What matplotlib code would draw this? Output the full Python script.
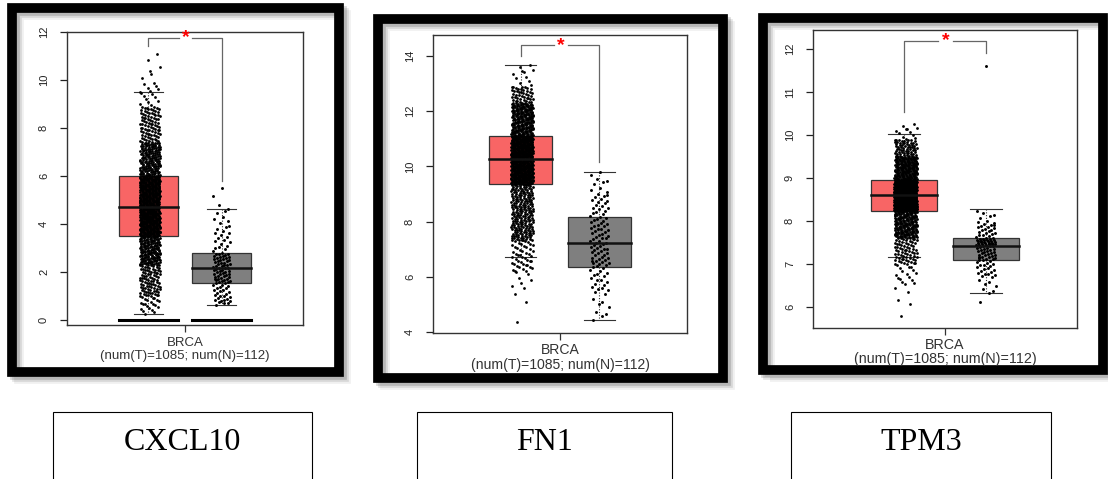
import numpy as np
import matplotlib
matplotlib.use("Agg")
import matplotlib.pyplot as plt
from matplotlib.patches import Rectangle

plt.rcParams['font.family'] = ['Liberation Sans', 'DejaVu Sans']

W, H = 1108, 479

genes = ["CXCL10", "FN1", "TPM3"]
n_tumor, n_normal = 1085, 112

# box stats: (whisker low, Q1, median, Q3, whisker high)
tumor_box = [(0.25, 3.5, 4.72, 6.0, 9.5),
             (6.7, 9.35, 10.25, 11.1, 13.68),
             (7.15, 8.23, 8.6, 8.96, 10.03)]
normal_box = [(0.65, 1.55, 2.18, 2.8, 4.65),
              (4.42, 6.35, 7.22, 8.15, 9.78),
              (6.32, 7.08, 7.42, 7.6, 8.27)]

# rough quantile knots of the dot clouds (probability, value)
tumor_probs = [[0, .005, .02, .1, .25, .5, .75, .9, .98, .995, 1],
               [0, .003, .01, .05, .25, .5, .75, .95, .99, 1],
               [0, .005, .02, .08, .25, .5, .75, .93, .99, 1]]
tumor_vals = [[0.25, 0.5, 1.0, 2.3, 3.5, 4.72, 6.0, 7.4, 8.9, 9.9, 11.1],
              [4.35, 5.5, 6.2, 7.3, 9.35, 10.25, 11.1, 12.3, 12.9, 13.68],
              [5.78, 6.5, 7.0, 7.6, 8.23, 8.6, 8.96, 9.5, 9.9, 10.25]]
normal_probs = [[0, .02, .08, .25, .5, .75, .9, .97, 1],
                [0, .03, .08, .25, .5, .75, .92, .97, 1],
                [0, .02, .08, .25, .5, .75, .93, .995, 1]]
normal_vals = [[0.65, 0.7, 0.9, 1.55, 2.18, 2.8, 3.8, 4.65, 5.5],
               [4.42, 4.7, 5.4, 6.35, 7.22, 8.15, 9.0, 9.5, 9.78],
               [6.12, 6.35, 6.7, 7.08, 7.42, 7.6, 7.95, 8.27, 11.6]]

# significance bracket: (left bottom, top, right bottom)
brackets = [(11.4, 11.75, 5.8), (14.0, 14.38, 10.16), (10.53, 12.19, 11.9)]

ylims = [(-0.2, 12.0), (3.96, 14.76), (5.51, 12.44)]
yticks = [np.arange(0, 13, 2), np.arange(4, 15, 2), np.arange(6, 13, 1)]
zero_bars = [True, False, False]

# layout in pixels
axes_px = [(67, 32, 303, 325), (433, 35, 687, 333), (813, 30, 1077, 328)]
frame_px = [(12, 8, 339, 372), (377.5, 18.5, 723, 377.5), (762.5, 17.5, 1102.5, 370)]
label_y = [349.5, 357.5, 352]
label_fs = [9.5, 10.1, 10.3]
name_box_px = [(53, 412, 312), (417, 412, 672), (791, 412, 1051)]

RED = "#f86565"
GRAY = "#7f7f7f"


def cloud(probs, vals, n, center, half):
    i = np.arange(n)
    p = (i * 0.6180339887 + 0.31) % 1.0
    p[np.argmin(p)] = 0.0
    p[np.argmax(p)] = 1.0
    y = np.interp(p, probs, vals)
    x = center + ((i * 0.7548776662 + 0.13) % 1.0 - 0.5) * 2 * half
    return x, y


def draw_box(ax, pos, stats, color):
    lo, q1, med, q3, hi = stats
    w = 0.8
    ax.add_patch(Rectangle((pos - w / 2, q1), w, q3 - q1, facecolor=color,
                           edgecolor="#333333", lw=0.9, zorder=2))
    ax.plot([pos, pos], [hi, q3], color="#333333", lw=0.8, ls=(0, (1, 1.5)), zorder=2)
    ax.plot([pos, pos], [q1, lo], color="#333333", lw=0.8, ls=(0, (1, 1.5)), zorder=2)
    for v in (lo, hi):
        ax.plot([pos - w / 4, pos + w / 4], [v, v], color="#333333", lw=0.8, zorder=2)
    return w


fig = plt.figure(figsize=(W / 100, H / 100), dpi=100)

for k in range(3):
    l, t, r, b = axes_px[k]
    ax = fig.add_axes([l / W, 1 - b / H, (r - l) / W, (b - t) / H])
    ax.set_xlim(-0.11, 3.11)
    ax.set_ylim(*ylims[k])

    w = draw_box(ax, 1, tumor_box[k], RED)
    draw_box(ax, 2, normal_box[k], GRAY)

    xt, yt = cloud(tumor_probs[k], tumor_vals[k], n_tumor, 1.02, 0.14)
    xn, yn = cloud(normal_probs[k], normal_vals[k], n_normal, 2.0, 0.12)
    ax.scatter(xt, yt, s=4, color="black", lw=0, zorder=3)
    ax.scatter(xn, yn, s=4.5, color="black", lw=0, zorder=3)

    for pos, stats in ((1, tumor_box[k]), (2, normal_box[k])):
        ax.plot([pos - w / 2, pos + w / 2], [stats[2]] * 2, color="#111111", lw=1.8, zorder=4)
        if zero_bars[k]:
            ax.plot([pos - w / 2, pos + w / 2], [0, 0], color="black", lw=2.2, zorder=4)

    lb, top, rb = brackets[k]
    bc = "#666666"
    ax.plot([1, 1, 1.42], [lb, top, top], color=bc, lw=0.9, zorder=1)
    ax.plot([1.6, 2, 2], [top, top, rb], color=bc, lw=0.9, zorder=1)
    ax.text(1.51, top, "*", color="red", ha="center", va="center",
            fontsize=14, fontweight="bold")

    ax.set_yticks(yticks[k])
    ax.set_xticks([1.5])
    ax.set_xticklabels([""])
    ax.tick_params(axis="y", labelrotation=90, length=5, pad=8,
                   labelsize=8, colors="#222222", width=0.9)
    ax.tick_params(axis="x", length=5, width=0.9, colors="#333333")
    for lab in ax.get_yticklabels():
        lab.set_verticalalignment("center")
    for s in ax.spines.values():
        s.set_color("#333333")
        s.set_linewidth(1.0)

    cx = (l + r) / 2 / W
    fig.text(cx, 1 - label_y[k] / H,
             "BRCA\n(num(T)=%d; num(N)=%d)" % (n_tumor, n_normal),
             ha="center", va="center", fontsize=label_fs[k], color="#333333",
             linespacing=1.0, multialignment="center")

    # thick frame with soft shadow
    fx0, fy0, fx1, fy1 = frame_px[k]
    for d, a in ((7, 0.06), (5, 0.1), (3, 0.15)):
        fig.add_artist(Rectangle(((fx0 + d) / W, 1 - (fy1 + d) / H), (fx1 - fx0) / W,
                                 (fy1 - fy0) / H, transform=fig.transFigure,
                                 facecolor="none", edgecolor="black", alpha=a, lw=7))
    fig.add_artist(Rectangle((fx0 / W, 1 - fy1 / H), (fx1 - fx0) / W, (fy1 - fy0) / H,
                             transform=fig.transFigure, facecolor="none",
                             edgecolor="black", lw=7))

    # gene name box
    bx0, by0, bx1 = name_box_px[k]
    fig.add_artist(Rectangle((bx0 / W, -0.05), (bx1 - bx0) / W, 0.05 + 1 - by0 / H,
                             transform=fig.transFigure, facecolor="none",
                             edgecolor="black", lw=0.8))
    fig.text((bx0 + bx1) / 2 / W, 1 - 442 / H, genes[k], ha="center", va="center",
             fontsize=23, family=["Liberation Serif", "DejaVu Serif"])

fig.savefig("out.png", dpi=100)
